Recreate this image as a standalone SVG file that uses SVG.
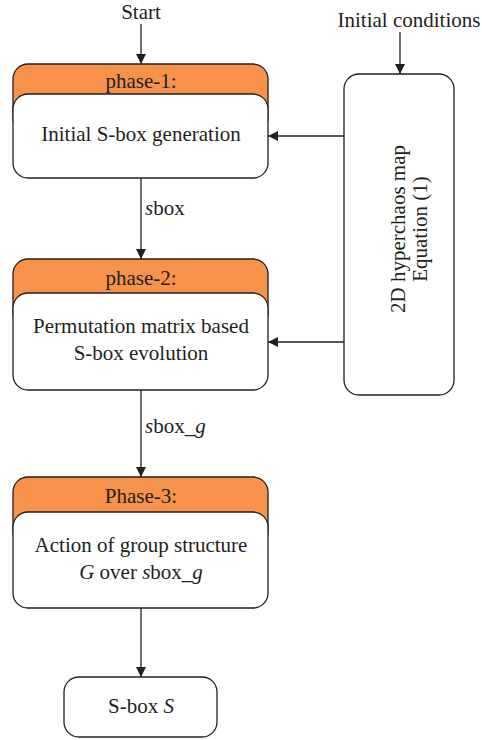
<svg xmlns="http://www.w3.org/2000/svg" width="482" height="740" viewBox="0 0 482 740">
<defs>
<marker id="ah" markerWidth="10" markerHeight="10" refX="10" refY="5" orient="auto" markerUnits="userSpaceOnUse">
<path d="M0,0 L10,5 L0,10 Z" fill="#231F20"/>
</marker>
<style>
text{font-family:"Liberation Serif","Times New Roman",serif;font-size:21px;fill:#231F20}
.c{text-anchor:middle}
.hd{fill:#F6924A;stroke:#231F20;stroke-width:1.3}
.bx{fill:#fff;stroke:#231F20;stroke-width:1.3}
.ln{stroke:#231F20;stroke-width:1.3;fill:none;marker-end:url(#ah)}
</style>
</defs>
<rect width="482" height="740" fill="#fff"/>
<g id="connectors">
<line class="ln" x1="141" y1="24" x2="141" y2="64"/>
<line class="ln" x1="400" y1="32" x2="400" y2="74"/>
<line class="ln" x1="344" y1="136" x2="268" y2="136"/>
<line class="ln" x1="344" y1="342" x2="268" y2="342"/>
<line class="ln" x1="141" y1="178" x2="141" y2="259"/>
<line class="ln" x1="141" y1="390" x2="141" y2="477"/>
<line class="ln" x1="141" y1="608" x2="141" y2="677"/>
<text x="145" y="215" font-size="19"><tspan font-style="italic">s</tspan>box</text>
<text x="145" y="433" font-size="19"><tspan font-style="italic">s</tspan>box_<tspan font-style="italic">g</tspan></text>
</g>
<g id="start"><text class="c" x="141" y="19">Start</text></g>
<g id="init"><text class="c" x="409" y="27">Initial conditions</text></g>
<g id="phase1">
<rect class="hd" x="13" y="64" width="255" height="70" rx="15"/>
<rect class="bx" x="13" y="94" width="255" height="84" rx="15"/>
<text class="c" x="141" y="88">phase-1:</text>
<text class="c" x="141" y="141">Initial S-box generation</text>
</g>
<g id="phase2">
<rect class="hd" x="13" y="259" width="255" height="70" rx="15"/>
<rect class="bx" x="13" y="293" width="255" height="97" rx="15"/>
<text class="c" x="141" y="285">phase-2:</text>
<text class="c" x="141" y="333">Permutation matrix based</text>
<text class="c" x="141" y="360">S-box evolution</text>
</g>
<g id="phase3">
<rect class="hd" x="13" y="477" width="255" height="70" rx="15"/>
<rect class="bx" x="13" y="512" width="255" height="96" rx="15"/>
<text class="c" x="141" y="503">Phase-3:</text>
<text class="c" x="141" y="552">Action of group structure</text>
<text class="c" x="141" y="579"><tspan font-style="italic">G</tspan> over <tspan font-style="italic">s</tspan>box_<tspan font-style="italic">g</tspan></text>
</g>
<g id="chaos">
<rect class="bx" x="344" y="74" width="110" height="321" rx="15"/>
<g transform="translate(399,229) rotate(-90)">
<text class="c" x="0" y="6">2D hyperchaos map</text>
<text class="c" x="0" y="28">Equation (1)</text>
</g>
</g>
<g id="sboxS">
<rect class="bx" x="64" y="677" width="153" height="60" rx="15"/>
<text class="c" x="141" y="713">S-box <tspan font-style="italic">S</tspan></text>
</g>
</svg>
